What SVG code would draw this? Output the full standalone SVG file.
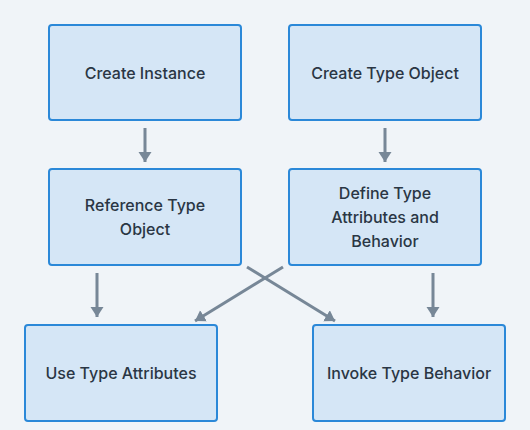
<svg xmlns="http://www.w3.org/2000/svg" width="530" height="430" viewBox="0 0 530 430">
<style>
.node rect{fill:#d5e6f6;stroke:#2b88d8;stroke-width:2}
.node text{font-family:Inter,"Liberation Sans",Arial,sans-serif;font-size:16px;font-weight:500;fill:#2a3644;text-anchor:middle;dominant-baseline:central}
.edge{stroke:#778797;stroke-width:3;fill:none;marker-end:url(#ah)}
</style>
<defs>
<marker id="ah" markerUnits="userSpaceOnUse" markerWidth="11" markerHeight="14" refX="10" refY="6.5" orient="auto">
<path d="M0,0 L10,6.5 L0,13 z" fill="#778797"/>
</marker>
</defs>
<rect width="530" height="430" fill="#f0f4f8"/>
<g id="connectors">
<line class="edge" x1="145" y1="128" x2="145" y2="162"/>
<line class="edge" x1="385" y1="128" x2="385" y2="162"/>
<line class="edge" x1="97" y1="273" x2="97" y2="317"/>
<line class="edge" x1="433" y1="273" x2="433" y2="317"/>
<line class="edge" x1="247" y1="267" x2="335" y2="321"/>
<line class="edge" x1="283" y1="267" x2="195" y2="321"/>
</g>
<g id="create-instance" class="node"><rect x="49" y="25" width="192" height="95" rx="3"/><text x="145" y="72.5">Create Instance</text></g>
<g id="create-type-object" class="node"><rect x="289" y="25" width="192" height="95" rx="3"/><text x="385" y="72.5">Create Type Object</text></g>
<g id="reference-type-object" class="node"><rect x="49" y="169" width="192" height="96" rx="3"/><text x="145" y="205">Reference Type</text><text x="145" y="229">Object</text></g>
<g id="define-type" class="node"><rect x="289" y="169" width="192" height="96" rx="3"/><text x="385" y="193">Define Type</text><text x="385" y="217">Attributes and</text><text x="385" y="241">Behavior</text></g>
<g id="use-type-attributes" class="node"><rect x="25" y="325" width="192" height="96" rx="3"/><text x="121" y="373">Use Type Attributes</text></g>
<g id="invoke-type-behavior" class="node"><rect x="313" y="325" width="192" height="96" rx="3"/><text x="409" y="373">Invoke Type Behavior</text></g>
</svg>
